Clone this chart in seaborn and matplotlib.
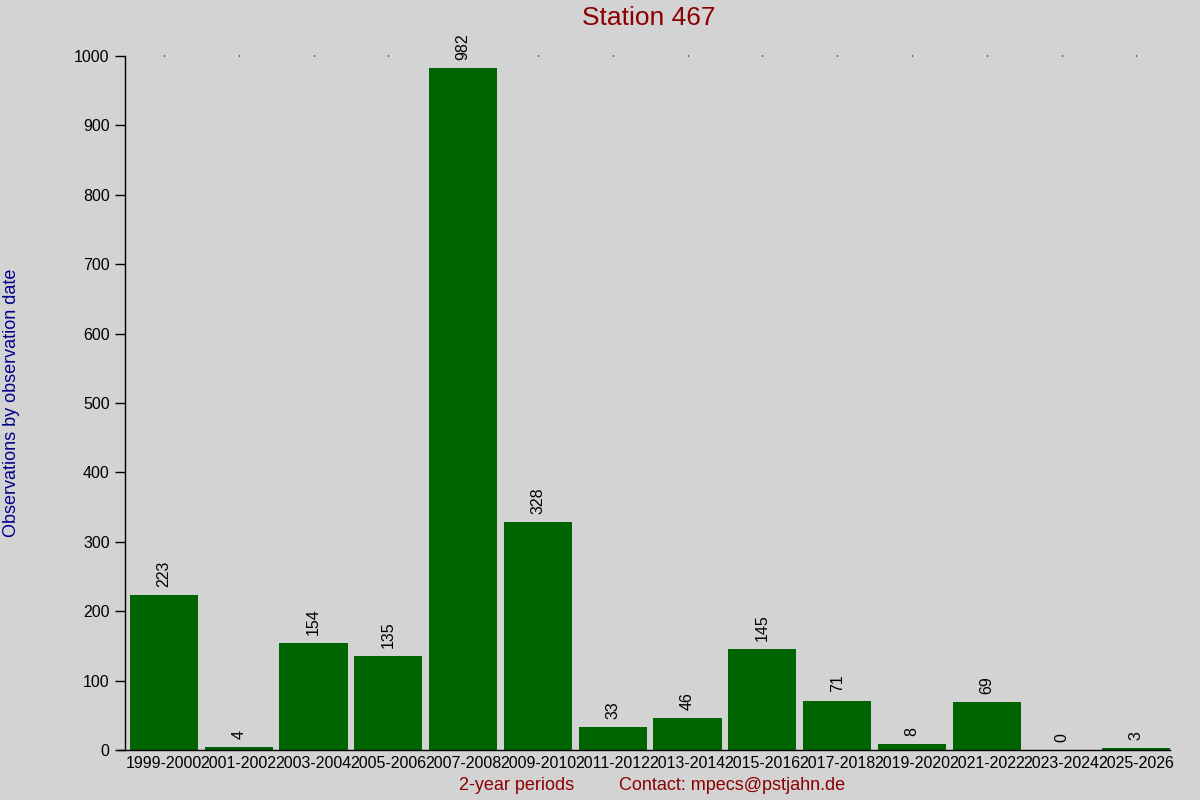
import matplotlib
matplotlib.use("Agg")
import matplotlib.pyplot as plt
import seaborn as sns
import pandas as pd

periods = ["1999-2000", "2001-2002", "2003-2004", "2005-2006", "2007-2008",
           "2009-2010", "2011-2012", "2013-2014", "2015-2016", "2017-2018",
           "2019-2020", "2021-2022", "2023-2024", "2025-2026"]
counts = [223, 4, 154, 135, 982, 328, 33, 46, 145, 71, 8, 69, 0, 3]
yticks = [0, 100, 200, 300, 400, 500, 600, 700, 800, 900, 1000]

sns.set_theme(style="white")
plt.rcParams['font.family'] = ['Liberation Sans', 'DejaVu Sans']

bg = "#d3d3d3"
fig = plt.figure(figsize=(12, 8), dpi=100, facecolor=bg)
ax = fig.add_axes([125/1200, 1 - 750/800, (1170-125)/1200, (750-56)/800])
ax.set_facecolor(bg)

df = pd.DataFrame({"period": periods, "count": counts})
sns.barplot(data=df, x="period", y="count", color="#006400", saturation=1,
            width=0.91, linewidth=0, edgecolor="none", ax=ax)

ax.set_xlim(-0.52, len(periods) - 0.55)
ax.set_ylim(0, 1000)
ax.set_yticks(yticks)
ax.set_yticklabels([str(t) for t in yticks], fontsize=11.5, color="black")
ax.set_xticks(range(len(periods)))
ax.set_xticklabels(periods, fontsize=11.5, color="black")
ax.tick_params(axis='y', left=True, length=7, width=1, color="black", pad=4)
ax.tick_params(axis='x', bottom=False, top=True, length=1, width=1, color="black", pad=3)

for s in ["top", "right"]:
    ax.spines[s].set_visible(False)
for s in ["left", "bottom"]:
    ax.spines[s].set_color("black")
    ax.spines[s].set_linewidth(1)
ax.spines["bottom"].set_bounds(-0.52 - 7/74.7, len(periods) - 0.55)

for i, v in enumerate(counts):
    ax.annotate(str(v), (i, v), xytext=(0, 6), textcoords="offset points",
                rotation=90, ha="center", va="bottom", fontsize=11.5, color="black")

ax.set_xlabel("")
ax.set_ylabel("")
fig.text(649/1200, 1 - 18/800, "Station 467", ha="center", va="center",
         fontsize=19, color="#8b0000")
fig.text(12/1200, 1 - 403/800, "Observations by observation date", rotation=90,
         ha="center", va="center", fontsize=13, color="#00008b")
fig.text(517/1200, 1 - 786/800, "2-year periods", ha="center", va="center",
         fontsize=13, color="#8b0000")
fig.text(732/1200, 1 - 786/800, "Contact: mpecs@pstjahn.de", ha="center", va="center",
         fontsize=13, color="#8b0000")

fig.savefig("out.png", dpi=100, facecolor=bg)
